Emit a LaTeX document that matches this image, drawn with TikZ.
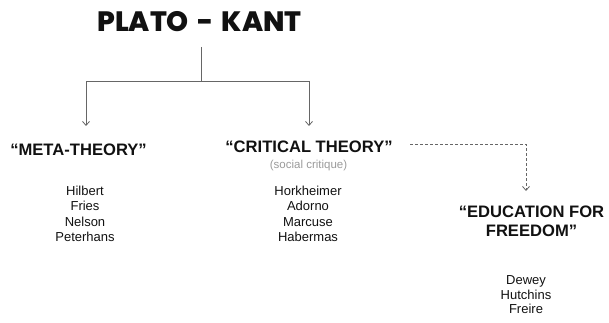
\documentclass[tikz,border=0pt]{standalone}
\usepackage{fontspec}
\setmainfont{Liberation Sans}
\newfontfamily\titlefont{Poppins}[UprightFont={* ExtraBold}, BoldFont={* ExtraBold}]
\usetikzlibrary{arrows.meta}
\definecolor{linec}{HTML}{666666}
\definecolor{subc}{HTML}{9A9A9A}
\definecolor{txt}{HTML}{111111}
\tikzset{
  conn/.style={draw=linec, line width=0.9pt},
  tip/.style={-{Straight Barb[length=4pt,width=7pt,line width=0.8pt]}},
  head/.style={font=\fontsize{16.6}{18.5}\selectfont\bfseries, text=txt, inner sep=0pt, anchor=base, align=center},
  names/.style={font=\fontsize{13}{15.6}\selectfont, text=txt, inner sep=0pt, align=center, anchor=north},
  title/.style={font=\titlefont\fontsize{28}{30}\selectfont, text=txt, inner sep=0pt, anchor=base},
}
\begin{document}
\begin{tikzpicture}[x=1pt,y=-1pt]
\useasboundingbox (0,0) rectangle (609,323);
\node[title] (title) at (199.5,32) {PLATO\hspace{3pt} - \hspace{3pt}KANT};
\node[head] (meta) at (78.5,155) {“META-THEORY”};
\node[head] (crit) at (309,152) {“CRITICAL THEORY”};
\node[font=\fontsize{11.5}{13}\selectfont, text=subc, inner sep=0pt, anchor=base] (soc) at (308.5,168) {(social critique)};
\node[head, anchor=north] (edu) at (531.5,206) {“EDUCATION FOR\\FREEDOM”};
\node[names] (mnames) at (85,185.5) {Hilbert\\Fries\\Nelson\\Peterhans};
\node[names] (cnames) at (308,185.5) {Horkheimer\\Adorno\\Marcuse\\Habermas};
\node[names, font=\fontsize{13}{14.6}\selectfont] (enames) at (526,275.5) {Dewey\\Hutchins\\Freire};
\coordinate (ttop) at (201,47);
\coordinate (split) at (201,81);
\coordinate (mtop) at (86,126);
\coordinate (ctop) at (309,126);
\coordinate (dstart) at (410,144);
\coordinate (etop) at (526,191);
\draw[conn] (ttop) -- (split);
\draw[conn, tip] (split) -| (mtop);
\draw[conn, tip] (split) -| (ctop);
\draw[conn, tip, dashed, dash pattern=on 3pt off 2pt, line width=0.8pt] (dstart) -| (etop);
\end{tikzpicture}
\end{document}
